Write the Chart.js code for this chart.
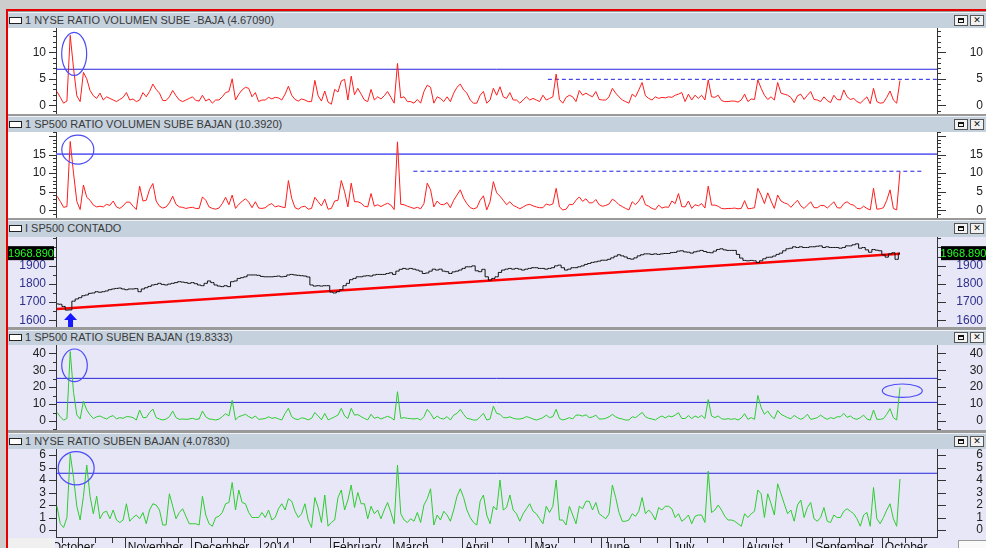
<!DOCTYPE html>
<html>
<head>
<meta charset="utf-8">
<script src="https://cdn.jsdelivr.net/npm/chart.js@4.4.1/dist/chart.umd.min.js"></script>
<style>
  html, body { margin: 0; padding: 0; width: 986px; height: 548px; overflow: hidden; background: #cdcdcd; }
  body { position: relative; font-family: "Liberation Sans", Arial, sans-serif; }
  .abs { position: absolute; }
  .bar { position: absolute; left: 8px; width: 978px; background: #c5d1dd; border-top: 1px solid #eef2f6; box-sizing: border-box; color: #3a3a3a; font-size: 11px; white-space: nowrap; }
  .bar .ico { position: absolute; left: 1px; width: 13px; height: 7px; background: #fff; border: 1px solid #222; box-sizing: border-box; }
  .bar .t { position: absolute; left: 17px; }
  .bar .btn { position: absolute; width: 14px; height: 11px; border: 1px solid #555; background: #f2f2f2; box-sizing: border-box; font: bold 9px "DejaVu Sans", sans-serif; text-align: center; line-height: 9px; color: #111; }
  .bar .btn.sq::after { content: ""; position: absolute; left: 3px; top: 2px; width: 6px; height: 5px; border: 1px solid #111; border-top-width: 2px; box-sizing: border-box; }
  canvas { position: absolute; left: 8px; }
</style>
</head>
<body>
<div class="abs" style="left:6px;top:9px;width:980px;height:2px;background:#e60000"></div>
<div class="abs" style="left:6px;top:9px;width:2px;height:539px;background:#e60000"></div>
<div class="abs" style="left:8px;top:11px;width:978px;height:537px;background:#9a9a9a"></div>
<div id="panels"></div>
<script>
// ── values (one point per trading day, 3 Oct 2013 .. 8 Oct 2014) ──

const monthStarts = [-2, 21, 41, 62, 83, 102, 123, 144, 165, 186, 208, 229, 250];
const monthNames = ["October", "November", "December", "2014", "February", "March",
  "April", "May", "June", "July", "August", "September", "October"];

const nyseVolRatio = [
  2.6,1.5,0.4,0.8,13.2,7.0,1.8,0.7,6.2,5.0, 2.8,1.8,1.3,2.3,1.0,1.6,1.3,1.0,0.7,1.1,
  1.5,2.4,1.0,1.2,0.7,1.0,2.4,1.6,2.6,4.0, 3.0,2.3,0.9,0.9,1.6,2.8,1.8,1.0,0.7,1.0,
  1.3,1.6,0.9,0.8,1.9,0.8,1.2,0.4,1.0,1.0, 1.6,2.4,2.6,5.0,1.0,2.1,2.9,3.4,3.2,1.6,
  2.4,0.7,1.0,1.0,1.5,1.2,1.5,1.4,1.0,2.1, 3.6,1.9,1.1,0.8,1.2,1.0,0.7,0.7,4.7,1.8,
  0.8,2.7,0.6,0.2,3.0,2.5,4.6,4.9,1.0,5.5, 2.0,3.2,2.1,1.0,0.7,3.0,1.0,1.6,1.2,1.8,
  2.6,1.5,0.4,7.9,1.4,1.6,0.7,0.7,0.4,1.1, 0.4,2.6,3.8,3.4,0.4,1.6,1.3,0.7,1.6,0.7,
  2.3,3.4,4.0,2.9,2.3,1.0,0.4,0.4,1.9,2.6, 0.4,1.0,3.2,1.9,3.5,1.6,1.3,2.4,1.0,1.0,
  0.4,1.0,1.6,1.0,1.3,1.0,0.7,1.9,1.0,1.3, 1.6,5.9,1.1,0.4,1.5,1.9,1.6,0.7,2.8,1.9,
  2.3,1.9,1.6,2.6,1.1,1.0,1.0,1.6,3.2,2.3, 1.6,1.0,0.7,0.4,2.1,1.6,2.9,4.3,1.8,1.3,
  1.0,1.6,1.3,1.5,1.4,1.6,1.5,1.9,2.1,2.4, 0.7,2.1,1.0,1.9,1.3,1.9,1.0,4.8,1.6,1.5,
  1.9,0.9,0.7,0.7,0.8,0.8,0.6,1.0,2.1,0.7, 1.2,1.1,4.8,3.2,1.9,1.1,1.6,1.0,4.3,2.3,
  2.1,1.9,1.5,0.5,1.8,2.1,1.1,1.9,2.6,1.1, 1.0,0.7,1.6,0.9,0.5,1.9,1.1,1.0,2.9,1.6,
  1.1,1.3,0.7,0.4,1.0,1.6,0.3,3.2,0.7,0.4, 0.5,1.5,2.7,1.0,0.4,4.6709
];

const spVolRatio = [
  3.8,2.4,0.8,1.0,18.5,10.0,2.4,0.2,6.8,3.5, 2.7,1.4,0.9,1.1,0.9,1.6,1.3,2.5,0.9,0.5,
  1.2,2.2,2.2,1.1,0.2,6.5,2.5,2.7,5.6,7.2, 2.5,1.1,0.6,0.9,2.0,3.8,1.6,0.9,0.8,0.5,
  0.7,0.8,0.5,0.5,3.6,2.7,0.9,0.5,0.3,0.6, 1.8,3.5,1.5,4.1,0.5,1.6,2.4,3.1,2.2,0.7,
  2.3,0.6,0.5,0.7,1.4,1.8,0.9,1.2,0.9,0.7, 8.0,3.2,0.7,0.3,0.9,1.1,0.3,0.5,3.5,2.3,
  1.2,3.0,0.3,0.5,2.5,2.7,8.0,5.0,0.9,7.3, 2.3,2.3,1.9,1.1,0.9,4.5,1.1,1.5,1.0,1.5,
  1.9,1.4,0.2,18.4,1.6,1.5,1.1,0.8,0.5,0.8, 0.4,1.8,7.3,5.5,0.9,2.5,1.6,1.5,2.1,0.7,
  2.7,4.1,5.5,3.2,1.8,0.7,0.4,0.7,2.7,3.9, 0.1,2.3,7.7,4.7,3.8,2.7,1.5,2.3,1.3,0.9,
  0.4,0.9,1.4,1.6,1.2,0.9,0.7,0.7,1.7,1.4, 1.7,5.9,0.9,0.1,0.3,1.6,1.5,2.7,3.6,2.4,
  3.1,2.0,2.0,2.9,1.5,1.1,1.3,1.7,3.0,2.4, 1.5,1.0,0.5,0.1,2.3,1.5,2.5,4.0,1.5,1.1,
  0.5,0.2,1.4,0.6,0.9,0.8,2.5,1.8,4.5,1.0, 0.9,2.5,0.5,1.5,1.2,1.8,0.6,6.5,1.4,1.4,
  1.1,0.5,0.4,0.5,0.5,0.6,0.4,0.5,2.6,0.4, 0.5,0.7,5.9,4.1,1.8,4.7,2.5,0.5,4.1,2.5,
  2.0,1.7,0.8,1.8,2.7,1.2,0.5,1.4,2.3,0.7, 0.7,1.3,1.3,0.6,1.4,2.3,0.7,0.6,1.8,2.3,
  1.6,1.4,0.5,0.4,1.1,0.5,0.1,5.9,0.3,0.4, 0.7,2.7,5.5,0.5,0.1,10.392
];

const spClose = [
  1690,1688,1676,1656,1657,1705,1717,1724,1735,1739, 1748,1750,1757,1754,1757,1761,1768,1772,1775,1777,
  1772,1768,1772,1772,1774,1757,1772,1779,1786,1794, 1797,1803,1797,1794,1799,1803,1807,1812,1810,1807,
  1803,1807,1801,1794,1790,1803,1816,1807,1794,1788, 1785,1790,1785,1812,1816,1830,1834,1839,1849,1849,
  1849,1847,1841,1839,1839,1839,1841,1843,1839,1841, 1849,1852,1849,1847,1845,1843,1838,1794,1788,1790,
  1788,1790,1790,1755,1750,1757,1768,1790,1803,1823, 1830,1839,1839,1843,1845,1843,1849,1852,1852,1852,
  1857,1861,1852,1870,1880,1885,1881,1885,1881,1876, 1870,1857,1860,1870,1881,1876,1881,1870,1867,1857,
  1866,1870,1876,1885,1894,1894,1899,1872,1867,1880, 1839,1821,1830,1839,1863,1876,1881,1885,1881,1885,
  1881,1876,1881,1885,1889,1889,1885,1885,1881,1885, 1889,1899,1903,1889,1876,1881,1889,1889,1894,1899,
  1907,1912,1918,1921,1925,1930,1930,1935,1943,1952, 1960,1954,1948,1939,1936,1943,1954,1960,1965,1965,
  1962,1965,1962,1965,1967,1967,1972,1973,1980,1982, 1976,1974,1969,1976,1980,1984,1978,1973,1971,1980,
  1989,1993,1987,1984,1984,1984,1962,1942,1929,1927, 1929,1927,1917,1927,1938,1946,1947,1953,1962,1969,
  1982,1993,1996,2004,2000,2004,2000,2000,2004,2004, 2007,2009,2000,2004,2000,2000,2000,1996,2000,2009,
  2009,2015,2020,1996,2000,1987,1974,1989,1985,1982, 1960,1947,1965,1971,1935,1968.89
];
const spTrendIdx = [0, 255];
const spTrendVal = [1662, 1965];

const spAdRatio = [
  5.1,2.5,0.5,1.5,41.0,17.0,3.6,1.2,11.8,6.5, 3.6,1.5,2.5,3.0,2.0,1.2,2.5,3.2,1.2,2.0,
  1.6,2.6,2.5,2.0,0.6,6.5,2.0,2.0,5.0,7.1, 2.0,1.2,0.6,1.2,2.5,5.9,2.0,1.0,1.2,1.0,
  1.2,1.6,1.0,1.2,5.9,2.5,1.2,1.0,0.6,1.1, 2.6,4.3,3.0,12.2,0.7,2.6,3.2,4.0,2.6,1.6,
  3.0,1.0,1.2,1.5,2.5,1.6,2.0,1.3,0.6,4.5, 7.5,2.5,1.2,0.9,1.9,1.5,0.7,1.6,5.0,3.0,
  0.7,4.5,0.7,1.5,2.5,3.5,7.5,3.0,1.5,7.5, 3.5,3.8,2.6,1.5,0.7,4.0,1.6,2.3,1.2,2.0,
  2.8,2.0,0.6,17.3,1.6,2.0,1.6,1.4,1.2,1.6, 0.6,2.6,6.9,4.5,1.2,2.9,1.6,1.2,2.6,0.6,
  3.5,4.5,6.9,3.9,1.6,1.2,0.6,0.6,2.6,4.5, 0.6,1.2,8.8,4.5,4.0,2.0,1.9,2.5,1.6,1.2,
  1.2,1.6,2.6,2.0,1.2,0.6,1.2,2.0,3.5,2.0, 2.6,6.9,1.5,0.6,1.2,2.0,1.2,3.5,3.5,2.9,
  3.7,2.0,2.4,3.5,1.2,1.2,1.6,2.5,3.9,2.5, 1.6,1.2,0.6,0.6,2.5,2.0,3.5,5.1,2.5,1.6,
  1.2,0.6,2.0,3.0,1.8,3.0,2.5,3.5,4.9,1.5, 1.5,3.2,1.4,3.0,2.0,3.3,1.4,12.7,3.0,2.0,
  3.0,1.4,1.0,1.4,1.0,1.4,0.6,1.8,4.3,1.0, 2.0,1.0,15.1,8.0,4.0,5.9,3.0,1.4,6.3,4.0,
  3.0,2.0,1.4,3.3,2.0,1.0,2.0,4.0,1.0,1.4, 2.0,3.5,2.0,1.0,2.0,1.4,2.5,2.5,4.5,2.2,
  3.0,1.5,1.0,2.0,3.5,1.2,0.5,6.5,1.0,1.0, 1.4,4.0,7.3,2.0,0.6,19.8333
];

const nyseAdRatio = [
  1.9,0.5,0.2,1.0,6.1,4.2,1.9,0.8,2.7,5.2, 2.7,1.3,2.7,0.9,1.4,1.5,0.9,1.6,0.8,0.6,
  0.8,2.1,0.7,1.0,1.2,0.9,1.4,0.5,1.6,2.1, 2.0,1.6,0.4,0.4,2.9,1.9,0.9,1.4,1.7,1.1,
  0.5,0.5,0.5,0.4,2.7,1.2,0.5,0.3,1.0,1.1, 1.4,2.1,2.2,3.8,1.6,3.2,2.2,2.1,1.4,1.0,
  1.0,1.0,1.4,1.0,1.6,0.8,1.0,1.7,2.1,1.6, 2.5,2.3,1.5,1.0,1.3,2.1,0.8,0.2,2.6,1.8,
  0.6,2.8,0.3,0.6,0.8,2.6,3.2,1.6,2.4,3.6, 1.8,3.0,2.1,2.1,0.9,1.9,1.3,1.6,0.9,1.6,
  2.2,1.4,0.5,5.2,1.3,0.8,0.6,0.9,0.7,1.4, 0.6,2.0,2.5,3.3,0.4,1.2,0.8,1.5,1.2,0.7,
  1.6,2.7,3.3,2.6,1.6,1.0,0.6,0.4,2.3,2.8, 1.2,0.5,1.9,1.6,4.0,1.6,1.8,2.8,1.6,1.3,
  0.7,1.3,1.7,2.1,1.5,1.3,0.9,0.5,1.9,1.4, 1.9,4.0,0.8,0.8,0.4,1.9,1.2,0.5,1.9,1.7,
  2.3,2.3,1.6,2.2,1.3,1.1,0.9,1.3,3.6,2.6, 1.4,0.7,0.7,0.8,1.3,1.1,1.5,2.6,1.3,1.6,
  1.3,0.8,1.8,1.6,1.9,1.9,1.7,1.0,1.3,0.7, 0.9,1.2,0.5,1.1,1.2,1.2,0.6,4.7,1.4,1.6,
  2.0,1.6,1.1,0.8,0.8,0.7,0.5,0.3,1.3,1.0, 1.3,1.5,3.2,2.9,1.0,2.9,2.1,1.2,3.7,2.9,
  2.1,1.3,1.6,0.7,2.0,2.4,1.0,1.8,2.2,0.9, 0.7,1.0,1.8,0.7,0.6,1.2,1.0,1.0,1.5,1.7,
  1.5,1.3,0.9,0.3,1.2,1.4,0.3,3.4,0.9,0.5, 1.0,1.6,2.1,0.9,0.3,4.0783
];

// horizontal study lines: level, or [fromIdx, toIdx, level] for the dashed pieces
const nyseVolLevel = 6.8;
const nyseVolDash = [148.5, 266.2, 4.9];
const spVolLevel = 15.1;
const spVolDash = [107.8, 261.8, 10.5];
const spAdLevels = [25.2, 11.0];
const nyseAdLevel = 4.54;

// hand-drawn rings [idx, value, rx, ry] and the arrow [idx, value]
const nyseVolRings = [[5.2, 9.7, 12.5, 21.5]];
const spVolRings = [[6.3, 16.3, 16, 14.5]];
const spAdRings = [[5.3, 32.9, 12.8, 16.3], [255.7, 17.9, 20, 6.7]];
const nyseAdRings = [[5.8, 4.94, 18, 16.7]];
const spArrow = [4.1, 1640];

// ── drawing ─────────────────────────────────────────────

const X_MIN = -0.3, X_MAX = 266.2;
const RED = "rgb(255,28,28)", GREEN = "rgb(46,204,46)", BLUE = "#2424dc";

Chart.defaults.font.family = '"Liberation Sans", Arial, sans-serif';

const pts = (vals) => vals.map((v, i) => ({ x: i, y: v }));
const flat = (v, a = X_MIN, b = X_MAX) => [{ x: a, y: v }, { x: b, y: v }];

function lineSet(data, color, width, extra) {
  return Object.assign({ data, borderColor: color, borderWidth: width, pointRadius: 0, fill: false, tension: 0 }, extra || {});
}

function tickValues(lo, hi, step) {
  const out = [];
  for (let v = Math.ceil(lo / step) * step; v <= hi + 1e-9; v += step) out.push(Math.round(v * 1000) / 1000);
  return out;
}

function yScale(pos, c) {
  const top = c.labelMax != null ? c.labelMax : c.max;
  return {
    type: "linear", position: pos, min: c.min, max: c.max,
    grid: { display: false, drawTicks: false },
    border: { display: true, color: "#333", width: 1 },
    afterBuildTicks: (s) => { s.ticks = tickValues(c.min, c.max, c.minor).map((v) => ({ value: v })); },
    afterFit: (s) => { s.width = pos === "left" ? 48 : 46; s.paddingTop = 0; s.paddingBottom = 0; },
    ticks: {
      autoSkip: false, padding: pos === "left" ? 10 : 0,
      crossAlign: pos === "left" ? "near" : "far",
      color: c.tickColor || "#222", font: { size: 12 },
      callback: (v) => (v <= top && Math.abs(v / c.major - Math.round(v / c.major)) < 1e-6 ? String(v) : "")
    }
  };
}

const decor = {
  id: "decor",
  afterDraw(chart, _args, o) {
    const { ctx, chartArea: ca, scales } = chart;
    const xs = scales.x, ys = scales.y;
    const majorStep = o.major;
    ctx.save();
    ctx.strokeStyle = "#333";
    ctx.lineWidth = 1;
    ctx.beginPath();
    ys.ticks.forEach((t) => {
      const py = Math.round(ys.getPixelForValue(t.value)) + 0.5;
      const big = Math.abs(t.value / majorStep - Math.round(t.value / majorStep)) < 1e-6;
      ctx.moveTo(ca.left - (big ? 7 : 3), py); ctx.lineTo(ca.left, py);
      ctx.moveTo(ca.right, py); ctx.lineTo(ca.right + (big ? 9 : 4), py);
    });
    ctx.stroke();

    if (o.months) {
      const bottom = Math.round(ca.bottom);
      ctx.fillStyle = "#f0f0f0";
      ctx.fillRect(0, bottom + 1, ca.left - 1, chart.height - bottom);
      ctx.beginPath();
      o.months.forEach((i) => {
        const px = Math.round(xs.getPixelForValue(i - 0.5)) + 0.5;
        if (px < ca.left) return;
        ctx.moveTo(px, bottom); ctx.lineTo(px, chart.height);
      });
      for (let i = 1.5; i < X_MAX; i += 5) {
        if (o.months.some((m) => Math.abs(m - 0.5 - i) < 2)) continue;
        const px = Math.round(xs.getPixelForValue(i)) + 0.5;
        ctx.moveTo(px, bottom); ctx.lineTo(px, bottom + 6);
      }
      ctx.stroke();
      ctx.fillStyle = "#fafafa";
      ctx.fillRect(chart.width - 28, bottom + 3, 28, chart.height);
      ctx.strokeStyle = "#999";
      ctx.strokeRect(chart.width - 27.5, bottom + 3.5, 28, chart.height);
    }

    (o.rings || []).forEach(([i, v, rx, ry]) => {
      ctx.beginPath();
      ctx.ellipse(xs.getPixelForValue(i), ys.getPixelForValue(v), rx, ry, 0, 0, Math.PI * 2);
      ctx.strokeStyle = "#4c4cf6";
      ctx.lineWidth = 1.2;
      ctx.stroke();
    });

    if (o.arrow) {
      const ax = xs.getPixelForValue(o.arrow[0]), ay = ys.getPixelForValue(o.arrow[1]);
      ctx.fillStyle = "#1616ff";
      ctx.beginPath();
      ctx.moveTo(ax, ay); ctx.lineTo(ax + 6.5, ay + 7); ctx.lineTo(ax + 2.5, ay + 7);
      ctx.lineTo(ax + 2.5, ay + 14); ctx.lineTo(ax - 2.5, ay + 14); ctx.lineTo(ax - 2.5, ay + 7);
      ctx.lineTo(ax - 6.5, ay + 7); ctx.closePath(); ctx.fill();
    }

    if (o.lastPrice != null) {
      const py = ys.getPixelForValue(o.lastPrice);
      const txt = o.lastPrice.toFixed(3);
      ctx.font = '11px "Liberation Sans", Arial, sans-serif';
      ctx.textAlign = "center";
      ctx.textBaseline = "middle";
      [[0, ca.left - 2], [ca.right + 4, chart.width]].forEach(([a, b]) => {
        ctx.fillStyle = "#000";
        ctx.fillRect(a, py - 7, b - a, 14);
        ctx.fillStyle = "#22ff22";
        ctx.fillText(txt, (a + b) / 2, py + 0.5);
      });
    }
    ctx.restore();
  }
};

const panels = [
  {
    title: "1 NYSE RATIO VOLUMEN SUBE -BAJA (4.67090)", barTop: 12, barH: 16, h: 86, bg: "#ffffff",
    y: { min: -1.64, max: 14.58, minor: 1, major: 5 },
    datasets: [
      lineSet(pts(nyseVolRatio), RED, 1),
      lineSet(flat(nyseVolLevel), BLUE, 1),
      lineSet(flat(nyseVolDash[2], nyseVolDash[0], nyseVolDash[1]), "#1e1ee6", 1, { borderDash: [4, 3] })
    ],
    decor: { rings: nyseVolRings }
  },
  {
    title: "1 SP500 RATIO VOLUMEN SUBE BAJAN (10.3920)", barTop: 116, barH: 16, h: 86, bg: "#ffffff",
    y: { min: -2.07, max: 21.05, minor: 1, major: 5, labelMax: 15 },
    datasets: [
      lineSet(pts(spVolRatio), RED, 1),
      lineSet(flat(spVolLevel), "#6a6af2", 1.6),
      lineSet(flat(spVolDash[2], spVolDash[0], spVolDash[1]), "#1e1ee6", 1, { borderDash: [4, 3] })
    ],
    decor: { rings: spVolRings }
  },
  {
    title: "I SP500 CONTADO", barTop: 220, barH: 17, h: 90, bg: "#e7e7f8",
    y: { min: 1563, max: 2057.7, minor: 50, major: 100, labelMax: 1900, tickColor: "#2e2e8c" },
    datasets: [
      lineSet(pts(spClose), "#111", 1, { stepped: "middle" }),
      lineSet(spTrendIdx.map((x, k) => ({ x, y: spTrendVal[k] })), "#ff0000", 2.5)
    ],
    decor: { arrow: spArrow, lastPrice: spClose[spClose.length - 1] }
  },
  {
    title: "1 SP500 RATIO SUBEN BAJAN (19.8333)", barTop: 330, barH: 15, h: 85, bg: "#e7e7f8",
    y: { min: -5.3, max: 44.9, minor: 5, major: 10 },
    datasets: [lineSet(pts(spAdRatio), GREEN, 1)].concat(spAdLevels.map((v) => lineSet(flat(v), BLUE, 1))),
    decor: { rings: spAdRings }
  },
  {
    title: "1 NYSE RATIO SUBEN BAJAN (4.07830)", barTop: 433, barH: 16, h: 111, bg: "#e7e7f8",
    y: { min: -0.56, max: 6.48, minor: 1, major: 1 },
    datasets: [lineSet(pts(nyseAdRatio), GREEN, 1), lineSet(flat(nyseAdLevel), BLUE, 1)],
    decor: { rings: nyseAdRings, months: monthStarts },
    xAxis: true
  }
];

const host = document.getElementById("panels");

panels.forEach((p) => {
  const bar = document.createElement("div");
  bar.className = "bar";
  bar.style.top = p.barTop + "px";
  bar.style.height = p.barH + "px";
  const mid = (p.barH - 1) / 2;
  bar.innerHTML =
    `<span class="ico" style="top:${Math.round(mid - 4)}px"></span>` +
    `<span class="t" style="top:${Math.round(mid - 7)}px">${p.title}</span>` +
    `<span class="btn sq" style="left:946px;top:${Math.round(mid - 6)}px"></span>` +
    `<span class="btn" style="left:962px;top:${Math.round(mid - 6)}px">✕</span>`;
  host.appendChild(bar);

  const cv = document.createElement("canvas");
  cv.width = 978;
  cv.height = p.h;
  cv.style.top = p.barTop + p.barH + "px";
  cv.style.background = p.bg;
  host.appendChild(cv);

  const xScale = {
    type: "linear", min: X_MIN, max: X_MAX, display: !!p.xAxis, position: "bottom",
    grid: { display: false, drawTicks: false },
    border: { display: true, color: "#333", width: 1 }
  };
  if (p.xAxis) {
    Object.assign(xScale, {
      afterBuildTicks: (s) => { s.ticks = monthStarts.map((i) => ({ value: i - 0.5 })); },
      afterFit: (s) => { s.height = 23; s.paddingLeft = 0; s.paddingRight = 0; },
      ticks: {
        autoSkip: false, maxRotation: 0, minRotation: 0, align: "start", padding: 3, labelOffset: 3,
        color: "#111", font: { size: 12 },
        callback: (v, i) => monthNames[i]
      }
    });
  }

  new Chart(cv, {
    type: "line",
    data: { datasets: p.datasets },
    options: {
      responsive: false,
      animation: false,
      events: [],
      layout: { padding: { left: 0, right: 3, top: 0, bottom: 0 } },
      plugins: {
        legend: { display: false }, tooltip: { enabled: false },
        decor: Object.assign({ major: p.y.major }, p.decor)
      },
      scales: { x: xScale, y: yScale("left", p.y), y2: yScale("right", p.y) }
    },
    plugins: [decor]
  });
});
</script>
</body>
</html>
